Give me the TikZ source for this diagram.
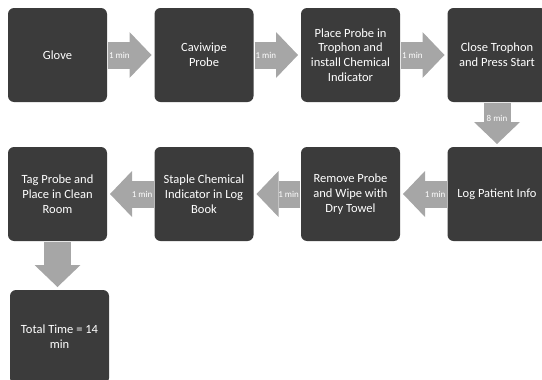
\documentclass[tikz,border=0pt]{standalone}
\usepackage{fontspec}
\setmainfont{Carlito}
\usepackage{tikz}
\usetikzlibrary{positioning}
\usetikzlibrary{arrows.meta}

\definecolor{boxgray}{HTML}{3B3B3B}
\definecolor{arrowgray}{HTML}{A6A6A6}

\begin{document}
\begin{tikzpicture}[
stepbox/.style={rectangle,rounded corners=6pt,fill=boxgray,text=white,minimum width=99pt,minimum height=94pt,outer sep=0pt,align=center,font=\fontsize{12.5}{14.8}\selectfont},
fatarrow/.style={draw=arrowgray,line width=27pt,-{Triangle[length=22pt,width=46pt,line width=0pt]},shorten <=1pt,shorten >=3pt},
timelabel/.style={text=white,font=\fontsize{9}{10}\selectfont,inner sep=0pt}
]
\useasboundingbox (0,0) rectangle (542pt,-380pt);

% first row
\node[stepbox](glove) at (57.5pt,-55pt){Glove};
\node[stepbox,right = 47.5pt of glove](cavi){Caviwipe\\Probe};
\node[stepbox,right = 47.5pt of cavi](place){Place Probe in\\Trophon and\\install Chemical\\Indicator};
\node[stepbox,right = 47.5pt of place](close){Close Trophon\\and Press Start};

% second row
\node[stepbox,below = 45pt of close](log){Log Patient Info};
\node[stepbox,left = 47.5pt of log](remove){Remove Probe\\and Wipe with\\Dry Towel};
\node[stepbox,left = 47.5pt of remove](staple){Staple Chemical\\Indicator in Log\\Book};
\node[stepbox,left = 47.5pt of staple](tag){Tag Probe and\\Place in Clean\\Room};

\node[stepbox,below = 49pt of tag,xshift=2pt](total){Total Time = 14\\min};

\draw[fatarrow] (glove) -- node[timelabel,pos=0.26]{1 min} (cavi);
\draw[fatarrow] (cavi) -- node[timelabel,pos=0.26]{1 min} (place);
\draw[fatarrow] (place) -- node[timelabel,pos=0.26]{1 min} (close);
\draw[fatarrow] (close) -- node[timelabel,pos=0.36]{8 min} (log);
\draw[fatarrow] (log) -- node[timelabel,pos=0.26]{1 min} (remove);
\draw[fatarrow] (remove) -- node[timelabel,pos=0.26]{1 min} (staple);
\draw[fatarrow] (staple) -- node[timelabel,pos=0.26]{1 min} (tag);
\draw[fatarrow] (tag.south) -- (tag.south |- total.north);

\end{tikzpicture}
\end{document}
